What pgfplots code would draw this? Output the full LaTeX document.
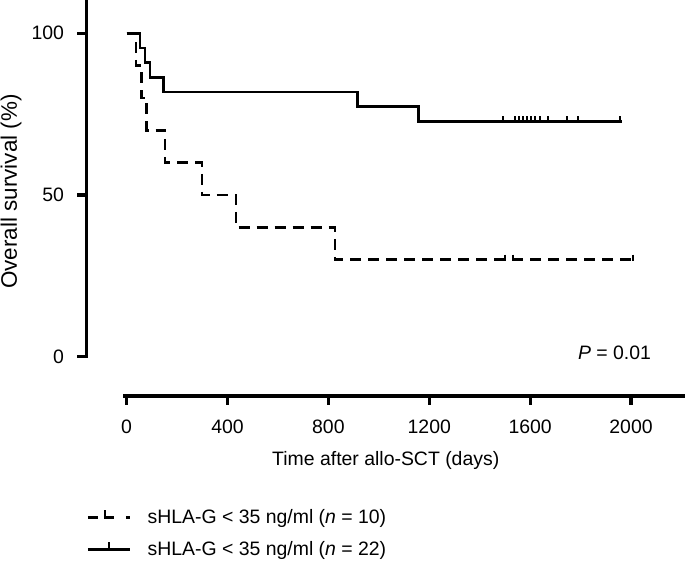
\documentclass[border=0pt]{standalone}
\usepackage{pgfplots}
\pgfplotsset{compat=1.18}
\usepackage{fontspec}
\setmainfont{Liberation Sans}
\newcommand{\chartfont}{\fontsize{19.5}{23}\selectfont}

\begin{document}
\begin{tikzpicture}
\begin{axis}[
  at={(86.5bp,173bp)}, anchor=south west,
  scale only axis, width=598.5bp, height=396bp,
  xmin=-159, xmax=2214, ymin=-12.2, ymax=110.3,
  axis x line*=bottom, axis y line*=left,
  axis line style={draw=none},
  xtick={0,400,...,2000}, ytick={0,50,100},
  tick align=outside, major tick length=9bp,
  tick style={line width=3.2bp, black},
  /pgf/number format/assume math mode=true,
  /pgf/number format/1000 sep={},
  ticklabel style={font=\chartfont},
  xticklabel style={yshift=-11bp},
  yticklabel style={xshift=-10bp},
  label style={font=\chartfont},
  xlabel={Time after allo-SCT (days)},
  ylabel={Overall survival (\%)},
  xlabel style={at={(axis description cs:0.5,-0.1616)}, anchor=center},
  ylabel style={at={(axis description cs:-0.1261,0.5164)}, anchor=center,
    font=\fontsize{22.5}{26}\selectfont},
  clip=false,
  legend cell align=left,
  legend style={at={(axis description cs:0,-0.285)}, anchor=north west,
    draw=none, fill=none, inner sep=0pt, outer sep=0pt,
    font=\chartfont, row sep=16bp,
    nodes={inner sep=0pt},
    /tikz/every odd column/.append style={column sep=16.7bp}},
]
\draw[line width=3.2bp, line cap=rect] (axis cs:-159,110.3) -- (axis cs:-159,0);
\draw[line width=3.2bp] (axis cs:-13,-12.2) -- (axis cs:2214,-12.2);

\addplot[const plot, line width=2.8bp, dash pattern=on 11bp off 7bp,
  legend image code/.code={
    \draw[solid, line width=2.8bp] (0bp,0bp) -- (10bp,0bp);
    \draw[solid, line width=2.8bp] (17bp,0bp) -- (26bp,0bp);
    \draw[solid, line width=2.8bp] (17bp,-1.4bp) -- (17bp,7bp);
    \draw[solid, line width=2.8bp] (38bp,0bp) -- (41.6bp,0bp);
  }] coordinates {
  (0,100) (37,90) (60,80) (80,70) (152,60) (299,50) (434,40) (826,30) (2008,30)
};
\addlegendentry{sHLA-G < 35 ng/ml (\textit{n} = 10)}

\addplot[const plot, line width=2.8bp,
  legend image code/.code={
    \draw[solid, line width=2.8bp] (0bp,0bp) -- (41.6bp,0bp);
    \draw[solid, line width=2.4bp] (20.8bp,0bp) -- (20.8bp,7bp);
  }] coordinates {
  (0,100) (53,95.45) (73,90.91) (93,86.36) (146,81.82) (915,77.27) (1157,72.73) (1963,72.73)
};
\addlegendentry{sHLA-G < 35 ng/ml (\textit{n} = 22)}

\addplot[only marks, mark=|, mark size=3bp, forget plot,
  mark options={line width=2bp, yshift=2bp, solid}] coordinates {
  (1494,72.73) (1540,72.73) (1557,72.73) (1573,72.73) (1589,72.73) (1602,72.73)
  (1619,72.73) (1639,72.73) (1672,72.73) (1745,72.73) (1791,72.73) (1956,72.73)
};
\addplot[only marks, mark=|, mark size=3bp, forget plot,
  mark options={line width=2bp, yshift=2bp, solid}] coordinates {
  (1500,30) (1532,30) (2008,30)
};

\node[anchor=east, font=\chartfont] at (axis cs:2093,1.2) {\textit{P} = 0.01};
\end{axis}
\pgfresetboundingbox
\useasboundingbox (0bp,0bp) rectangle (685bp,569bp);
\end{tikzpicture}
\end{document}
